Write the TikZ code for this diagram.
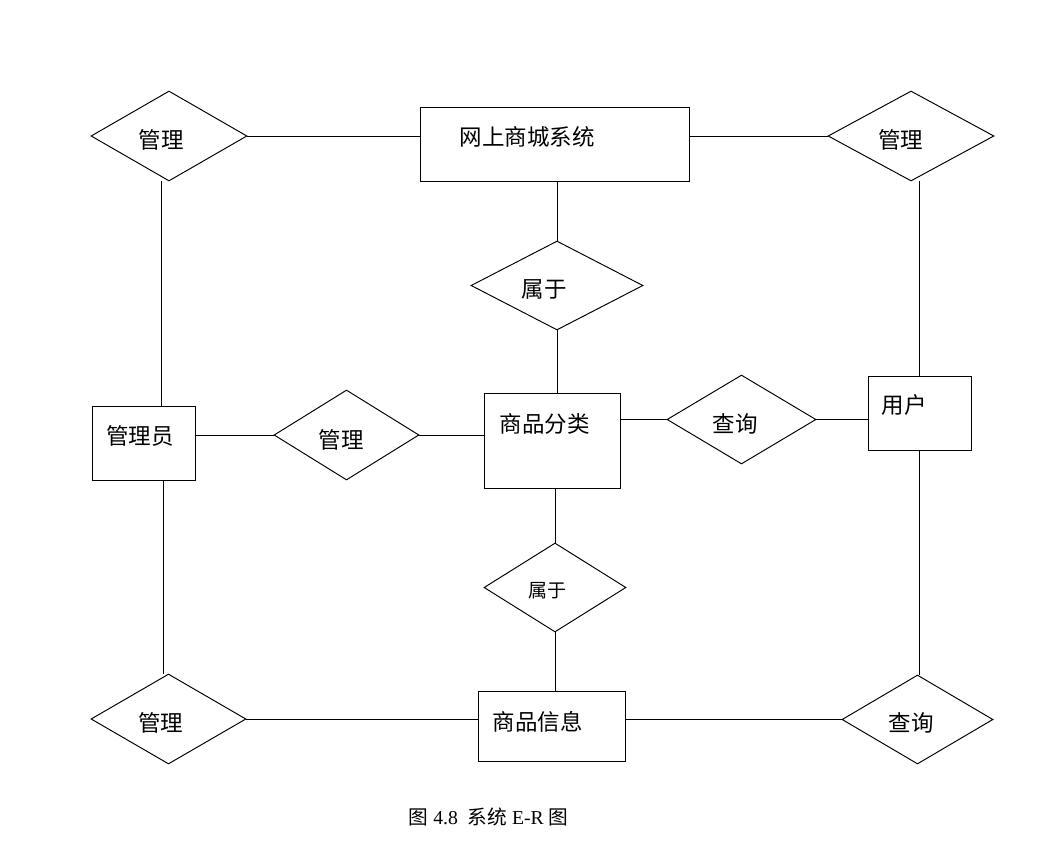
\documentclass[tikz,border=0pt]{standalone}
\usepackage{fontspec}
\setmainfont{Liberation Serif}
\newfontfamily\cjk{Noto Sans CJK SC}
\usepackage{tikz}
\usetikzlibrary{shapes.geometric}

\begin{document}
\begin{tikzpicture}[
  x=0.2mm, y=-0.2mm,
  ent/.style={draw, rectangle, inner sep=0pt, line width=0.55pt},
  rel/.style={draw, diamond, inner sep=0pt, line width=0.55pt},
  lbl/.style={font=\cjk\fontsize{12.8}{15}\selectfont, inner sep=0pt},
  lblsmall/.style={font=\cjk\fontsize{10.8}{13}\selectfont, inner sep=0pt},
  link/.style={line width=0.55pt},
]
\useasboundingbox (0,0) rectangle (1052,847);

% entities
\node[ent, minimum width=53.8mm, minimum height=14.8mm,
      label={[lbl, xshift=-15.6pt, yshift=4pt]center:网上商城系统}] (sys)   at (554.5,144) {};
\node[ent, minimum width=20.6mm, minimum height=14.8mm,
      label={[lbl, xshift=-2pt, yshift=4pt]center:管理员}]       (admin) at (143.5,443) {};
\node[ent, minimum width=27.2mm, minimum height=19mm,
      label={[lbl, xshift=-4pt, yshift=9.4pt]center:商品分类}]    (cat)   at (552,440.5) {};
\node[ent, minimum width=20.6mm, minimum height=14.8mm,
      label={[lbl, xshift=-8.8pt, yshift=4.5pt]center:用户}]     (user)  at (919.5,413) {};
\node[ent, minimum width=29.4mm, minimum height=14mm,
      label={[lbl, xshift=-7.7pt, yshift=2.3pt]center:商品信息}]   (goods) at (551.5,726) {};

% relationships
\node[rel, minimum width=31.2mm, minimum height=18mm,
      label={[lbl, xshift=-4.5pt, yshift=-2.3pt]center:管理}]    (mgrtl) at (169,136) {};
\node[rel, minimum width=33.2mm, minimum height=18mm,
      label={[lbl, xshift=-5.7pt, yshift=-2.3pt]center:管理}]    (mgrtr) at (911,136) {};
\node[rel, minimum width=34.4mm, minimum height=17.8mm,
      label={[lbl, xshift=-7.4pt, yshift=-2pt]center:属于}]      (belup) at (557,285.5) {};
\node[rel, minimum width=29mm, minimum height=18mm,
      label={[lbl, xshift=-3.1pt, yshift=-2.8pt]center:管理}]    (mgrmid) at (346.5,435) {};
\node[rel, minimum width=29.8mm, minimum height=17.8mm,
      label={[lbl, xshift=-3.7pt, yshift=-2.6pt]center:查询}]    (qmid)  at (741.5,419.5) {};
\node[rel, minimum width=28.4mm, minimum height=17.8mm,
      label={[lblsmall, xshift=-4.5pt, yshift=-2pt]center:属于}] (beldn) at (555,587.5) {};
\node[rel, minimum width=31mm, minimum height=18mm,
      label={[lbl, xshift=-4.3pt, yshift=-2.3pt]center:管理}]    (mgrbl) at (168.5,719) {};
\node[rel, minimum width=30.2mm, minimum height=17.8mm,
      label={[lbl, xshift=-3.7pt, yshift=-2pt]center:查询}]      (qbr)   at (917.5,719.5) {};

% caption
\node[font=\fontsize{11.2}{13}\selectfont, inner sep=0pt] (cap) at (488.5,817)
  {{\cjk 图} 4.8\ \ {\cjk 系统} E-R {\cjk 图}};

% connectors
\draw[link] (mgrtl.east) -- (mgrtl.east -| sys.west);
\draw[link] (sys.east |- mgrtr.west) -- (mgrtr.west);
\draw[link] (belup.north |- sys.south) -- (belup.north);
\draw[link] (belup.south) -- (belup.south |- cat.north);
\draw[link] ([xshift=10pt]admin.north |- mgrtl.south) -- ([xshift=10pt]admin.north);
\draw[link] (admin.east |- mgrmid.west) -- (mgrmid.west);
\draw[link] (mgrmid.east) -- (mgrmid.east -| cat.west);
\draw[link] (cat.east |- qmid.west) -- (qmid.west);
\draw[link] (qmid.east) -- (qmid.east -| user.west);
\draw[link] (mgrtr.south -| user.north) -- (user.north);
\draw[link] (user.south) -- (user.south |- qbr.north);
\draw[link] ([xshift=11.1pt]admin.south) -- ([xshift=11.1pt]admin.south |- mgrbl.north);
\draw[link] (mgrbl.east) -- (mgrbl.east -| goods.west);
\draw[link] (goods.east |- qbr.west) -- (qbr.west);
\draw[link] (beldn.north |- cat.south) -- (beldn.north);
\draw[link] (beldn.south) -- (beldn.south |- goods.north);
\end{tikzpicture}
\end{document}
